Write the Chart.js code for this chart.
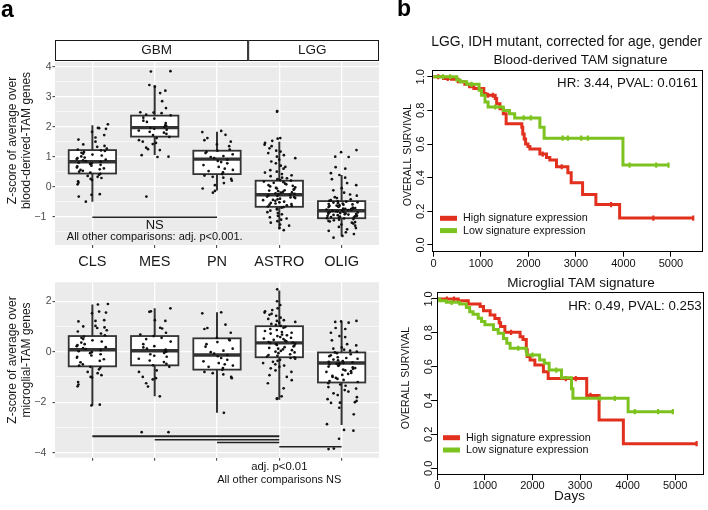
<!DOCTYPE html>
<html><head><meta charset="utf-8">
<script src="https://cdn.jsdelivr.net/npm/chart.js@4.4.0/dist/chart.umd.min.js"></script>
<style>
html,body{margin:0;padding:0;background:#fff;width:708px;height:510px;overflow:hidden;}
canvas{position:absolute;}
</style></head><body>
<canvas id="a1" width="385" height="275" style="left:0;top:0;width:385px;height:275px"></canvas>
<canvas id="a2" width="385" height="235" style="left:0;top:275px;width:385px;height:235px"></canvas>
<canvas id="b1" width="323" height="275" style="left:385px;top:0;width:323px;height:275px"></canvas>
<canvas id="b2" width="323" height="235" style="left:385px;top:275px;width:323px;height:235px"></canvas>
<script>
const FONT = '"Liberation Sans", Arial, Helvetica, sans-serif';
Chart.defaults.font.family = FONT;

// ---------- categories & tick labels ----------
const categories = ['CLS', 'MES', 'PN', 'ASTRO', 'OLIG'];
const cohorts = ['GBM', 'LGG'];
const bloodYTicks = [-1, 0, 1, 2, 3, 4];
const microYTicks = [-4, -2, 0, 2];
const kmXTicks = [0, 1000, 2000, 3000, 4000, 5000];
const kmYTicks = [0, 0.2, 0.4, 0.6, 0.8, 1.0];

// ---------- box statistics (blood-derived TAM) ----------
const bloodQ1     = [0.44, 1.67, 0.42, -0.67, -1.05];
const bloodMedian = [0.83, 1.97, 0.92, -0.27, -0.80];
const bloodQ3     = [1.22, 2.37, 1.20, 0.20, -0.48];
const bloodLow    = [-0.50, 1.06, -0.13, -1.42, -1.64];
const bloodHigh   = [2.05, 3.39, 1.83, 1.50, 0.39];

// ---------- box statistics (microglial TAM) ----------
const microQ1     = [-0.58, -0.54, -0.71, -0.22, -1.22];
const microMedian = [0.08, 0.04, -0.13, 0.35, -0.45];
const microQ3     = [0.62, 0.62, 0.53, 1.01, -0.03];
const microLow    = [-2.13, -1.77, -2.42, -1.90, -2.90];
const microHigh   = [1.87, 1.72, 1.56, 2.43, 1.20];

// ---------- individual samples (blood-derived) ----------
const bloodCLS = [2.08,1.96,1.95,1.93,1.83,1.72,1.64,1.57,1.5,1.41,1.36,1.33,1.27,1.24,1.21,1.19,1.16,1.13,1.1,1.07,1.04,1.01,0.97,0.95,0.92,0.9,0.88,0.85,0.83,0.8,0.78,0.76,0.73,0.7,0.68,0.64,0.61,0.58,0.56,0.53,0.5,0.47,0.43,0.4,0.36,0.33,0.29,0.26,0.22,0.18,0.13,0.08,-0.25,-0.27,-0.33,-0.5];
const bloodMES = [3.85,3.84,3.39,3.33,3.2,3.12,2.85,2.62,2.48,2.47,2.45,2.4,2.38,2.3,2.27,2.2,2.16,2.12,2.05,2.03,1.99,1.96,1.93,1.9,1.87,1.83,1.8,1.76,1.72,1.66,1.62,1.55,1.5,1.46,1.42,1.3,1.25,1.22,1.05,1.0,0.99,-0.33];
const bloodPN = [1.86,1.82,1.73,1.62,1.55,1.5,1.41,1.35,1.24,1.2,1.16,1.12,1.08,1.02,0.99,0.95,0.9,0.86,0.82,0.78,0.72,0.66,0.6,0.56,0.52,0.48,0.42,0.37,0.33,0.3,0.26,0.2,0.12,0.05,-0.06,-0.14,-0.2];
const bloodASTRO = [2.52,2.5,1.62,1.6,1.53,1.46,1.4,1.35,1.28,1.2,1.17,1.12,1.05,1.0,0.95,0.9,0.84,0.78,0.7,0.66,0.6,0.55,0.5,0.47,0.42,0.38,0.35,0.3,0.28,0.25,0.22,0.2,0.17,0.15,0.13,0.1,0.08,0.05,0.03,0.01,-0.02,-0.04,-0.06,-0.08,-0.1,-0.12,-0.13,-0.15,-0.17,-0.19,-0.2,-0.22,-0.24,-0.26,-0.28,-0.29,-0.31,-0.33,-0.35,-0.36,-0.38,-0.4,-0.42,-0.44,-0.45,-0.47,-0.5,-0.52,-0.54,-0.56,-0.58,-0.6,-0.62,-0.64,-0.66,-0.68,-0.7,-0.73,-0.76,-0.8,-0.85,-0.88,-0.92,-0.97,-1.02,-1.06,-1.1,-1.15,-1.2,-1.26,-1.3,-1.38,-1.45];
const bloodOLIG = [1.22,1.15,1.0,0.99,0.65,0.6,0.45,0.39,0.3,0.25,0.12,0.05,-0.05,-0.12,-0.2,-0.26,-0.3,-0.35,-0.38,-0.42,-0.45,-0.47,-0.49,-0.5,-0.52,-0.53,-0.55,-0.56,-0.58,-0.59,-0.6,-0.62,-0.63,-0.64,-0.66,-0.67,-0.68,-0.7,-0.71,-0.72,-0.73,-0.74,-0.75,-0.76,-0.77,-0.78,-0.79,-0.8,-0.81,-0.82,-0.83,-0.84,-0.85,-0.86,-0.87,-0.88,-0.89,-0.9,-0.91,-0.92,-0.93,-0.94,-0.95,-0.96,-0.97,-0.98,-0.99,-1.0,-1.01,-1.02,-1.03,-1.05,-1.06,-1.08,-1.1,-1.12,-1.14,-1.16,-1.18,-1.2,-1.23,-1.26,-1.3,-1.34,-1.38,-1.42,-1.47,-1.52,-1.58,-1.64,-1.7];

// ---------- individual samples (microglial) ----------
const microCLS = [1.89,1.87,1.59,1.55,1.52,1.25,1.22,1.2,1.02,1.0,0.96,0.94,0.85,0.8,0.72,0.65,0.6,0.55,0.5,0.45,0.4,0.36,0.3,0.26,0.22,0.18,0.14,0.1,0.06,0.02,-0.02,-0.06,-0.1,-0.15,-0.2,-0.24,-0.3,-0.36,-0.42,-0.5,-0.55,-0.6,-0.63,-0.7,-0.8,-0.85,-0.93,-1.0,-1.02,-1.2,-1.3,-1.37,-2.1,-2.13];
const microMES = [1.72,1.6,1.58,1.25,1.22,0.95,0.92,0.75,0.68,0.62,0.55,0.5,0.4,0.3,0.22,0.17,0.12,0.08,0.04,0.0,-0.05,-0.1,-0.16,-0.2,-0.28,-0.35,-0.41,-0.48,-0.54,-0.6,-0.74,-0.8,-1.0,-1.05,-1.1,-1.25,-1.38,-1.77,-3.19,-3.19];
const microPN = [1.56,1.52,1.07,0.94,0.9,0.75,0.55,0.48,0.45,0.38,0.3,0.2,0.12,0.04,-0.02,-0.08,-0.13,-0.18,-0.25,-0.32,-0.38,-0.45,-0.5,-0.55,-0.6,-0.65,-0.72,-0.8,-0.85,-0.9,-1.0,-1.05,-2.42];
const microASTRO = [2.47,2.0,1.85,1.72,1.65,1.6,1.55,1.5,1.46,1.42,1.35,1.3,1.25,1.22,1.18,1.15,1.1,1.06,1.02,0.98,0.95,0.9,0.86,0.82,0.78,0.75,0.72,0.68,0.65,0.62,0.58,0.55,0.52,0.5,0.47,0.44,0.41,0.38,0.36,0.34,0.32,0.3,0.27,0.24,0.21,0.18,0.15,0.12,0.09,0.06,0.03,0.0,-0.03,-0.06,-0.1,-0.13,-0.16,-0.19,-0.22,-0.25,-0.28,-0.32,-0.36,-0.4,-0.45,-0.5,-0.55,-0.6,-0.66,-0.74,-0.8,-0.93,-1.0,-1.13,-1.25,-1.45,-1.77,-1.85,-1.87];
const microOLIG = [1.22,1.2,1.18,1.15,0.94,0.9,0.75,0.62,0.58,0.45,0.3,0.25,0.17,0.12,0.08,0.04,0.0,-0.03,-0.06,-0.1,-0.14,-0.18,-0.22,-0.25,-0.28,-0.31,-0.34,-0.37,-0.4,-0.42,-0.44,-0.46,-0.48,-0.5,-0.53,-0.56,-0.59,-0.62,-0.65,-0.68,-0.71,-0.74,-0.77,-0.8,-0.84,-0.88,-0.92,-0.96,-1.0,-1.04,-1.08,-1.12,-1.16,-1.2,-1.25,-1.3,-1.35,-1.4,-1.46,-1.52,-1.58,-1.65,-1.72,-1.8,-1.88,-1.95,-2.0,-2.02,-2.03,-2.22,-2.48,-2.87,-3.1,-3.13,-3.45,-3.84,-3.86];

// ---------- significance brackets ----------
const bloodSigFrom = [1], bloodSigTo = [3], bloodSigY = [-1.02];
const microSigFrom = [1, 2, 3, 4], microSigTo = [4, 4, 4, 5], microSigY = [-3.35, -3.49, -3.60, -3.77];

// ---------- Kaplan-Meier curves [day, survival] ----------
const bloodHighKM = [[0,1.0],[210,0.99],[380,0.985],[520,0.97],[660,0.955],[760,0.94],[850,0.93],[1060,0.90],[1100,0.89],[1300,0.87],[1330,0.84],[1400,0.81],[1470,0.78],[1530,0.72],[1860,0.70],[1880,0.66],[1910,0.63],[1940,0.60],[1990,0.585],[2030,0.57],[2240,0.54],[2380,0.52],[2450,0.505],[2590,0.465],[2830,0.43],[2900,0.37],[3140,0.30],[3420,0.24],[3920,0.16],[5470,0.16]];
const bloodHighCens = [[100,1.0],[300,0.99],[1150,0.89],[1250,0.89],[2300,0.54],[2700,0.465],[3740,0.24],[4630,0.16],[5470,0.16]];
const bloodLowKM = [[0,1.0],[490,0.98],[560,0.97],[700,0.955],[960,0.92],[1010,0.89],[1085,0.85],[1150,0.82],[1470,0.80],[1600,0.78],[1710,0.755],[2240,0.70],[2330,0.635],[3990,0.475],[4950,0.475]];
const bloodLowCens = [[200,1.0],[350,1.0],[800,0.955],[1300,0.82],[1900,0.755],[2050,0.755],[2720,0.635],[2830,0.635],[3110,0.635],[3250,0.635],[4130,0.475],[4690,0.475],[4950,0.475]];
const microHighKM = [[0,1.0],[440,0.99],[650,0.97],[900,0.955],[970,0.93],[1110,0.905],[1210,0.885],[1300,0.86],[1330,0.837],[1420,0.803],[1740,0.777],[1800,0.76],[1870,0.70],[1890,0.66],[1950,0.64],[2050,0.61],[2230,0.57],[2330,0.53],[3140,0.43],[3400,0.285],[3910,0.145],[5450,0.145]];
const microHighCens = [[200,1.0],[350,1.0],[1550,0.803],[2700,0.53],[2910,0.53],[3220,0.43],[5450,0.145]];
const microLowKM = [[0,1.0],[50,0.99],[190,0.98],[470,0.97],[610,0.95],[680,0.925],[750,0.91],[860,0.886],[930,0.867],[1000,0.847],[1180,0.82],[1280,0.797],[1390,0.767],[1460,0.738],[1530,0.709],[1870,0.69],[1880,0.669],[2150,0.64],[2250,0.62],[2350,0.58],[2610,0.535],[2820,0.47],[2850,0.413],[4010,0.334],[4950,0.334]];
const microLowCens = [[300,0.98],[1700,0.709],[2000,0.669],[2500,0.58],[3420,0.413],[3730,0.413],[4150,0.334],[4640,0.334],[4950,0.334]];

const RED = '#e2301e', GREEN = '#7dc31f';

// ---------- helpers ----------
// deterministic horizontal spread of the strip-chart points (display only)
function jitter(i) { const s = Math.sin(i * 12.9898 + 4.1414) * 43758.5453; return ((s - Math.floor(s)) - 0.5) * 0.52; }
function pts(vals, cat) { return vals.map((v, i) => ({x: cat + jitter(i + cat * 131), y: v})); }
function fmtTick(v) { return v < 0 ? '\u2212' + Math.abs(v) + '\u2002' : String(v); }
function gridValues(majors, min, max) {
  const step = majors[1] - majors[0], out = [];
  for (let v = majors[0] - step; v <= majors[majors.length - 1] + step + 1e-9; v += step / 2) {
    const r = Math.round(v * 100) / 100;
    if (r >= min && r <= max) out.push(r);
  }
  return out;
}
function rotText(ctx, txt, x, y, font, color) {
  ctx.save(); ctx.translate(x, y); ctx.rotate(-Math.PI / 2);
  ctx.font = font; ctx.fillStyle = color; ctx.textAlign = 'center'; ctx.textBaseline = 'middle';
  ctx.fillText(txt, 0, 0); ctx.restore();
}
function txt(ctx, s, x, y, font, color, align) {
  ctx.font = font; ctx.fillStyle = color || '#000'; ctx.textAlign = align || 'center'; ctx.textBaseline = 'middle';
  ctx.fillText(s, x, y);
}

function boxChart(id, o) {
  const majors = o.yTicks;
  const gv = gridValues(majors, o.min, o.max);
  const isMajor = v => majors.some(m => Math.abs(m - v) < 1e-6);
  const datasets = [{
    data: o.groups.flatMap((g, i) => pts(g, i + 1)),
    pointRadius: 1.35, pointHoverRadius: 1.35, backgroundColor: '#111', borderWidth: 0
  }];
  const deco = {
    id: 'deco' + id,
    beforeDraw(chart) {
      const {ctx, chartArea: a, scales: {x}} = chart;
      ctx.save();
      ctx.fillStyle = '#ebebeb';
      ctx.fillRect(a.left, a.top, a.right - a.left, a.bottom - a.top);
      if (o.strip) {
        const xs = [x.getPixelForValue(0.4), x.getPixelForValue(3.5), x.getPixelForValue(5.6)];
        for (let k = 0; k < 2; k++) {
          ctx.fillStyle = '#fff'; ctx.strokeStyle = '#1a1a1a'; ctx.lineWidth = 1;
          ctx.fillRect(xs[k], 40, xs[k + 1] - xs[k], 20);
          ctx.strokeRect(xs[k] + 0.5, 40.5, xs[k + 1] - xs[k] - 1, 20);
          const cx = k === 0 ? x.getPixelForValue(2.03) : x.getPixelForValue(4.53);
          txt(ctx, cohorts[k], cx, 50.5, '13.5px ' + FONT, '#1a1a1a');
        }
        ctx.font = 'bold 23px ' + FONT; ctx.fillStyle = '#000'; ctx.textAlign = 'left'; ctx.textBaseline = 'middle';
        ctx.fillText('a', 1, 11);
      }
      rotText(ctx, o.title[0], 13, o.titleY, '12px ' + FONT, '#1a1a1a');
      rotText(ctx, o.title[1], 27, o.titleY, '12px ' + FONT, '#1a1a1a');
      ctx.restore();
    },
    beforeDatasetsDraw(chart) {
      const {ctx, scales: {x, y}} = chart;
      const hw = 0.38;
      ctx.save();
      for (let i = 0; i < o.q1.length; i++) {
        const c = i + 1, xc = x.getPixelForValue(c);
        const xl = x.getPixelForValue(c - hw), xr = x.getPixelForValue(c + hw);
        ctx.strokeStyle = '#333'; ctx.lineWidth = 2;
        ctx.beginPath();
        ctx.moveTo(xc, y.getPixelForValue(o.hi[i])); ctx.lineTo(xc, y.getPixelForValue(o.q3[i]));
        ctx.moveTo(xc, y.getPixelForValue(o.q1[i])); ctx.lineTo(xc, y.getPixelForValue(o.lo[i]));
        ctx.stroke();
        const yt = y.getPixelForValue(o.q3[i]), yb = y.getPixelForValue(o.q1[i]);
        ctx.fillStyle = '#fff'; ctx.fillRect(xl, yt, xr - xl, yb - yt);
        ctx.lineWidth = 1.8; ctx.strokeRect(xl, yt, xr - xl, yb - yt);
        ctx.lineWidth = 3.4; ctx.beginPath();
        const ym = y.getPixelForValue(o.med[i]);
        ctx.moveTo(xl, ym); ctx.lineTo(xr, ym); ctx.stroke();
      }
      ctx.restore();
    },
    afterDatasetsDraw(chart) {
      const {ctx, scales: {x, y}} = chart;
      ctx.save();
      ctx.strokeStyle = '#222';
      for (let i = 0; i < o.sigFrom.length; i++) {
        ctx.lineWidth = o.sigWidth[i] || 1.5;
        const yy = y.getPixelForValue(o.sigY[i]);
        ctx.beginPath(); ctx.moveTo(x.getPixelForValue(o.sigFrom[i]), yy);
        ctx.lineTo(x.getPixelForValue(o.sigTo[i]), yy); ctx.stroke();
      }
      o.notes.forEach(n => txt(ctx, n.t, x.getPixelForValue(n.x), y.getPixelForValue(n.y), n.f + ' ' + FONT, '#111'));
      ctx.restore();
    }
  };
  return new Chart(document.getElementById(id), {
    type: 'scatter',
    data: {datasets},
    options: {
      responsive: false, animation: false, events: [],
      layout: {padding: {left: 0, right: 6, top: o.padTop, bottom: 0}},
      plugins: {legend: {display: false}, tooltip: {enabled: false}},
      scales: {
        x: {
          type: 'linear', min: 0.4, max: 5.6,
          afterBuildTicks: s => { s.ticks = categories.map((c, i) => ({value: i + 1})); },
          afterFit: s => { s.height = o.xH; },
          ticks: {callback: v => o.showCats ? categories[v - 1] : '', font: {size: 14.5}, color: '#1a1a1a', padding: 5, maxRotation: 0, autoSkip: false},
          grid: {color: '#ffffff', lineWidth: 1.3, tickColor: '#333', tickLength: 3, tickWidth: 1},
          border: {display: false}
        },
        y: {
          min: o.min, max: o.max,
          afterBuildTicks: s => { s.ticks = gv.map(v => ({value: v})); },
          afterFit: s => { s.width = 55; },
          ticks: {callback: v => isMajor(v) ? fmtTick(v) : '', font: {size: 10.5}, color: '#4d4d4d', padding: 1, autoSkip: false},
          grid: {
            color: '#ffffff',
            lineWidth: c => isMajor(c.tick.value) ? 1.3 : 0.6,
            tickColor: c => isMajor(c.tick.value) ? '#333' : 'rgba(0,0,0,0)',
            tickLength: 2.5, tickWidth: 1
          },
          border: {display: false}
        }
      }
    },
    plugins: [deco]
  });
}

boxChart('a1', {
  groups: [bloodCLS, bloodMES, bloodPN, bloodASTRO, bloodOLIG],
  q1: bloodQ1, med: bloodMedian, q3: bloodQ3, lo: bloodLow, hi: bloodHigh,
  yTicks: bloodYTicks, min: -1.943, max: 4.157, padTop: 62, xH: 30, showCats: true, strip: true,
  title: ['Z-score of average over', 'blood-derived-TAM genes'], titleY: 140.5,
  sigFrom: bloodSigFrom, sigTo: bloodSigTo, sigY: bloodSigY, sigWidth: [1.5],
  notes: [{t: 'NS', x: 2, y: -1.28, f: '13px'}, {t: 'All other comparisons: adj. p<0.001.', x: 2, y: -1.69, f: '11px'}]
});

boxChart('a2', {
  groups: [microCLS, microMES, microPN, microASTRO, microOLIG],
  q1: microQ1, med: microMedian, q3: microQ3, lo: microLow, hi: microHigh,
  yTicks: microYTicks, min: -4.2, max: 2.75, padTop: 3.3, xH: 52.3, showCats: false, strip: false,
  title: ['Z-score of average over', 'microglial-TAM genes'], titleY: 85,
  sigFrom: microSigFrom, sigTo: microSigTo, sigY: microSigY, sigWidth: [2, 1.5, 1.5, 1.5],
  notes: [{t: 'adj. p<0.01', x: 4, y: -4.57, f: '11.3px'}, {t: 'All other comparisons NS', x: 4, y: -5.07, f: '11px'}]
});

// ---------- KM charts ----------
const xy = arr => arr.map(p => ({x: p[0], y: p[1]}));
function kmChart(id, o) {
  const deco = {
    id: 'km' + id,
    afterDraw(chart) {
      const {ctx, chartArea: a, scales: {y}} = chart;
      ctx.save();
      ctx.strokeStyle = '#000'; ctx.lineWidth = 1;
      ctx.strokeRect(Math.round(a.left) + 0.5, Math.round(a.top) + 0.5, Math.round(a.right - a.left) - 1, Math.round(a.bottom - a.top) - 1);
      kmYTicks.forEach(v => rotText(ctx, v.toFixed(1), a.left - o.ylabOff, y.getPixelForValue(v), '11px ' + FONT, '#111'));
      rotText(ctx, 'OVERALL SURVIVAL', o.yTitleX, o.yTitleY, '10.5px ' + FONT, '#111');
      o.titles.forEach(t => txt(ctx, t.t, t.x, t.y, t.f + ' ' + FONT, '#111'));
      txt(ctx, o.hr, o.hrX, o.hrY, '13.3px ' + FONT, '#111', 'right');
      const lg = [[RED, 'High signature expression'], [GREEN, 'Low signature expression']];
      lg.forEach((l, k) => {
        const yy = o.legY + k * 12.3;
        ctx.strokeStyle = l[0]; ctx.lineWidth = 5; ctx.lineCap = 'butt';
        ctx.beginPath(); ctx.moveTo(o.legX, yy); ctx.lineTo(o.legX + 17, yy); ctx.stroke();
        txt(ctx, l[1], o.legX + 23, yy, '10.8px ' + FONT, '#111', 'left');
      });
      if (o.days) txt(ctx, 'Days', o.days.x, o.days.y, '13.5px ' + FONT, '#111');
      if (o.panel) {
        ctx.font = 'bold 23px ' + FONT; ctx.fillStyle = '#000'; ctx.textAlign = 'left'; ctx.textBaseline = 'middle';
        ctx.fillText(o.panel, 12, 10);
      }
      ctx.restore();
    }
  };
  const line = (d, c) => ({data: xy(d), showLine: true, stepped: true, borderColor: c, borderWidth: 3, pointRadius: 0, fill: false, borderCapStyle: 'butt'});
  const cens = (d, c) => ({data: xy(d), showLine: false, pointStyle: 'line', rotation: 90, pointRadius: 2.6, pointHoverRadius: 2.6, borderColor: c, pointBorderWidth: 2.2, borderWidth: 2.2, backgroundColor: c});
  return new Chart(document.getElementById(id), {
    type: 'scatter',
    data: {datasets: [cens(o.lowC, GREEN), line(o.low, GREEN), cens(o.highC, RED), line(o.high, RED)]},
    options: {
      responsive: false, animation: false, events: [],
      layout: {padding: {left: 0, right: o.padR, top: o.padTop, bottom: 0}},
      plugins: {legend: {display: false}, tooltip: {enabled: false}},
      scales: {
        x: {
          type: 'linear', min: o.xmin, max: o.xmax,
          afterBuildTicks: s => { s.ticks = kmXTicks.map(v => ({value: v})); },
          afterFit: s => { s.height = o.xH; },
          ticks: {callback: v => String(v), font: {size: 11}, color: '#111', padding: o.xPad, maxRotation: 0, autoSkip: false},
          grid: {drawOnChartArea: false, drawTicks: true, tickLength: 5, color: '#000', lineWidth: 1},
          border: {display: false}
        },
        y: {
          min: -0.04, max: o.ymax,
          afterBuildTicks: s => { s.ticks = kmYTicks.map(v => ({value: v})); },
          afterFit: s => { s.width = o.yW; },
          ticks: {display: false},
          grid: {drawOnChartArea: false, drawTicks: true, tickLength: 5, color: '#000', lineWidth: 1},
          border: {display: false}
        }
      }
    },
    plugins: [deco]
  });
}

kmChart('b1', {
  high: bloodHighKM, highC: bloodHighCens, low: bloodLowKM, lowC: bloodLowCens,
  xmin: -25, xmax: 5680, ymax: 1.04, padTop: 70, padR: 4, xH: 23.3, yW: 47.3, ylabOff: 11, xPad: 1,
  yTitleX: 23, yTitleY: 155,
  titles: [{t: 'LGG, IDH mutant, corrected for age, gender', x: 181.7, y: 41.7, f: '13.9px'}, {t: 'Blood-derived TAM signature', x: 195.5, y: 60, f: '13.5px'}],
  hr: 'HR: 3.44, PVAL: 0.0161', hrX: 313, hrY: 83,
  legX: 55, legY: 218.3, panel: 'b'
});

kmChart('b2', {
  high: microHighKM, highC: microHighCens, low: microLowKM, lowC: microLowCens,
  xmin: -13, xmax: 5588, ymax: 1.043, padTop: 16.7, padR: 4.7, xH: 35, yW: 51.7, ylabOff: 8, xPad: -1,
  yTitleX: 21, yTitleY: 103,
  titles: [{t: 'Microglial TAM signature', x: 196, y: 8, f: '13.5px'}],
  hr: 'HR: 0.49, PVAL: 0.253', hrX: 316.7, hrY: 31,
  legX: 58, legY: 162.7, days: {x: 184.5, y: 221}
});
</script>
</body></html>
